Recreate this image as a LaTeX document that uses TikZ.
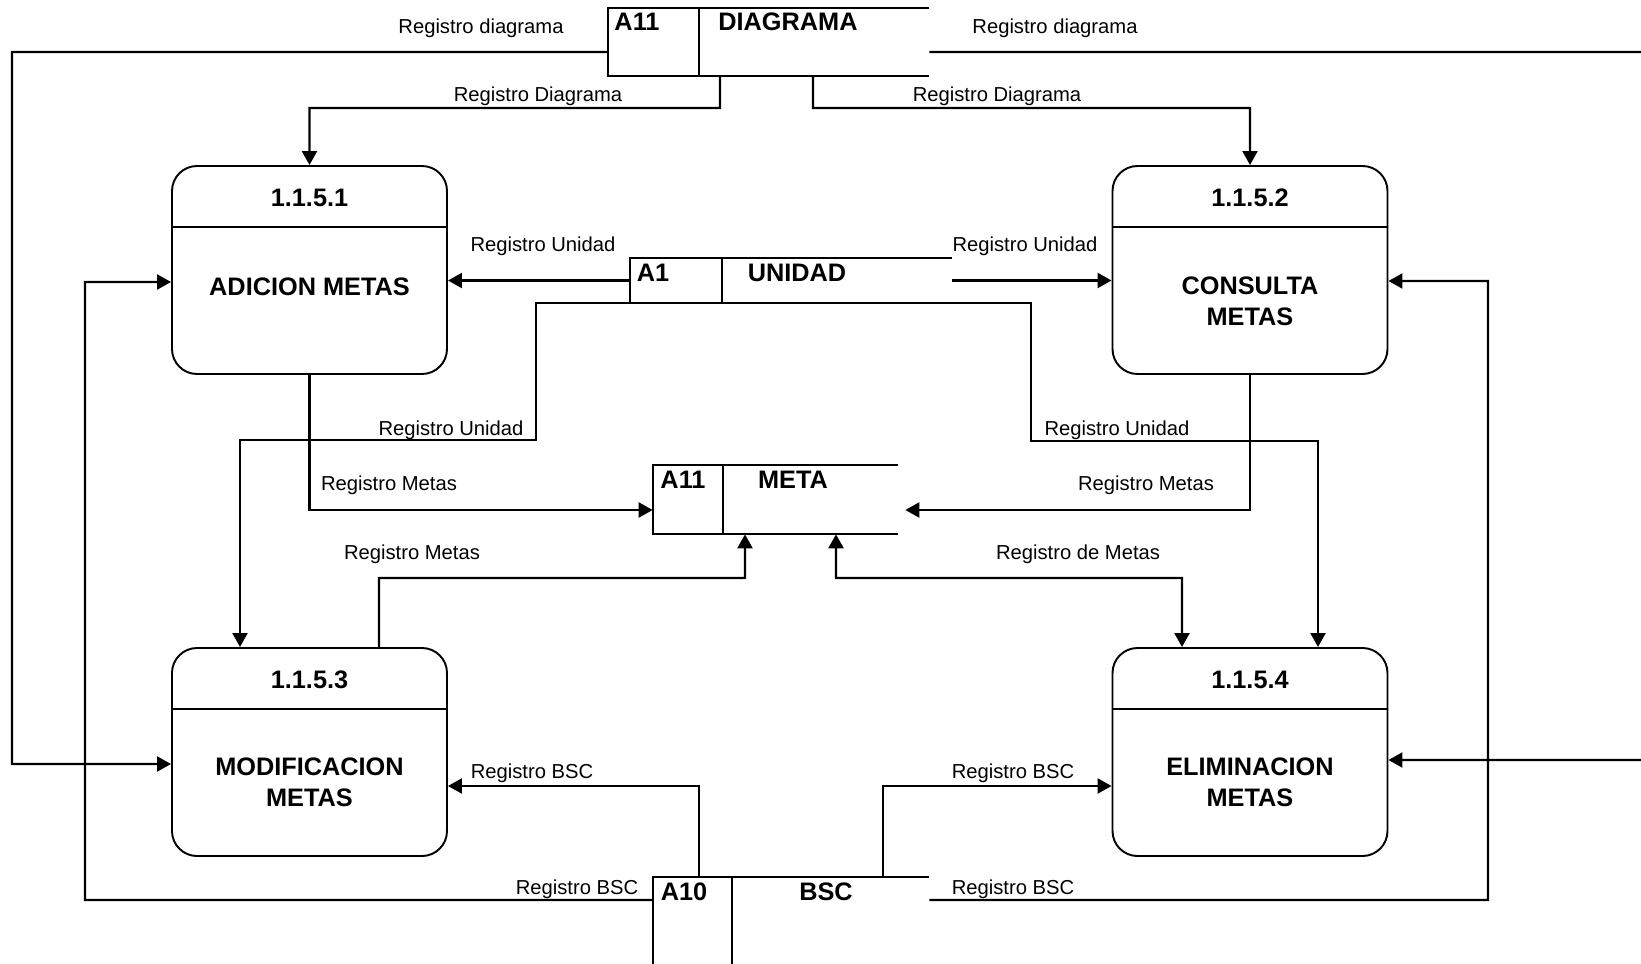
\documentclass[tikz,border=0pt]{standalone}
\usepackage{fontspec}
\setmainfont{Liberation Sans}
\usetikzlibrary{arrows.meta}

\begin{document}
\begin{tikzpicture}[x=0.2mm,y=-0.2mm,
    proc/.style={draw, rounded corners=5mm, minimum width=55mm, minimum height=41.6mm, line width=1.1pt},
    store/.style={inner sep=0pt},
    flow/.style={line width=1.3pt, -{Triangle[length=2.8mm,width=3mm]}},
    lbl/.style={inner sep=0pt, font=\fontsize{11.5}{13}\selectfont},
    ttl/.style={inner sep=0pt, align=center, font=\fontsize{14.4}{17.6}\selectfont\bfseries}]
      \useasboundingbox (0,0) rectangle (1641,964);
      \clip (0,0) rectangle (1641,964);
      % processes
      \node (P1) at (309.5,270) [proc] {};
      \node (P2) at (1250,270) [proc] {};
      \node (P3) at (309.5,752) [proc] {};
      \node (P4) at (1250,752) [proc] {};
      \draw[line width=1.1pt] ([yshift=-12.4mm]P1.north west) to ([yshift=-12.4mm]P1.north east);
      \draw[line width=1.1pt] ([yshift=-12.4mm]P2.north west) to ([yshift=-12.4mm]P2.north east);
      \draw[line width=1.1pt] ([yshift=-12.4mm]P3.north west) to ([yshift=-12.4mm]P3.north east);
      \draw[line width=1.1pt] ([yshift=-12.4mm]P4.north west) to ([yshift=-12.4mm]P4.north east);
      \node (n1) at (309.5,198) [ttl] {1.1.5.1};
      \node (t1) at (309.5,287) [ttl] {ADICION METAS};
      \node (n2) at (1250,198) [ttl] {1.1.5.2};
      \node (t2) at (1250,301.5) [ttl] {CONSULTA\\METAS};
      \node (n3) at (309.5,680) [ttl] {1.1.5.3};
      \node (t3) at (309.5,782.5) [ttl] {MODIFICACION\\METAS};
      \node (n4) at (1250,680) [ttl] {1.1.5.4};
      \node (t4) at (1250,782.5) [ttl] {ELIMINACION\\METAS};
      % stores
      \node (D) at (768.5,42) [store, minimum width=64.2mm, minimum height=13.6mm] {};
      \draw[line width=1.1pt] (D.north east) to (D.north west) to (D.south west) to (D.south east)
      ([xshift=18.2mm]D.north west) to ([xshift=18.2mm]D.south west);
      \node (Da) at (637,22) [ttl] {A11};
      \node (Db) at (788,22) [ttl] {DIAGRAMA};
      \node (U) at (791,280.5) [store, minimum width=64.4mm, minimum height=9mm] {};
      \draw[line width=1.1pt] (U.north east) to (U.north west) to (U.south west) to (U.south east)
      ([xshift=18.4mm]U.north west) to ([xshift=18.4mm]U.south west);
      \node (Ua) at (653,273) [ttl] {A1};
      \node (Ub) at (797,273) [ttl] {UNIDAD};
      \node (M) at (775.5,499.5) [store, minimum width=49mm, minimum height=13.8mm] {};
      \draw[line width=1.1pt] (M.north east) to (M.north west) to (M.south west) to (M.south east)
      ([xshift=14mm]M.north west) to ([xshift=14mm]M.south west);
      \node (Ma) at (683,480) [ttl] {A11};
      \node (Mb) at (793,480) [ttl] {META};
      \node (B) at (791,920.5) [store, minimum width=55.2mm, minimum height=17.4mm] {};
      \draw[line width=1.1pt] (B.north east) to (B.north west) to (B.south west)
      ([xshift=15.8mm]B.north west) to ([xshift=15.8mm]B.south west);
      \node (Ba) at (684,892) [ttl] {A10};
      \node (Bb) at (826,892) [ttl] {BSC};
      % flows from DIAGRAMA
      \draw[flow] ([yshift=-2mm]D.west) to (12,52) to (12,764) to ([yshift=-2.4mm]P3.west);
      \draw[flow] ([yshift=-2mm]D.east) to (1660,52) to (1660,760) to ([yshift=-1.6mm]P4.east);
      \draw[flow] ([xshift=-9.7mm]D.south) to (720,108) -| (P1.north);
      \draw[flow] ([xshift=8.9mm]D.south) to (813,108) -| (P2.north);
      % flows from UNIDAD
      \draw[flow] (U.west) to (U.west -| P1.east);
      \draw[flow] (U.east) to (U.east -| P2.west);
      \draw[flow] (U.south west) -| (536,440) -| ([xshift=-13.9mm]P3.north);
      \draw[flow] (U.south east) -| (1031,441) -| ([xshift=13.6mm]P4.north);
      % flows to META
      \draw[flow] (P1.south) |- ([yshift=-2.1mm]M.west);
      \draw[flow] (P2.south) |- ([xshift=1.4mm,yshift=-2.1mm]M.east);
      \draw[flow] ([xshift=13.9mm]P3.north) to (379,578) -| ([xshift=-6.1mm]M.south);
      \draw[flow, {Triangle[length=2.8mm,width=3mm]}-{Triangle[length=2.8mm,width=3mm]}]
      ([xshift=12.1mm]M.south) |- (1182,578) to ([xshift=-13.6mm]P4.north);
      % flows from BSC
      \draw[flow] ([xshift=-18.4mm]B.north) |- ([yshift=-6.8mm]P3.east);
      \draw[flow] ([xshift=18.4mm]B.north) |- ([yshift=-6.8mm]P4.west);
      \draw[flow] ([yshift=4.1mm]B.west) to (85,900) |- ([yshift=-2.4mm]P1.west);
      \draw[flow] ([yshift=4.1mm]B.east) to (1488,900) |- ([yshift=-2.2mm]P2.east);
      % labels
      \node (lD1) at (481,28) [lbl] {Registro diagrama};
      \node (lD2) at (1055,28) [lbl] {Registro diagrama};
      \node (lD3) at (538,96) [lbl] {Registro Diagrama};
      \node (lD4) at (997,96) [lbl] {Registro Diagrama};
      \node (lU1) at (543,246) [lbl] {Registro Unidad};
      \node (lU2) at (1025,246) [lbl] {Registro Unidad};
      \node (lU3) at (451,430) [lbl] {Registro Unidad};
      \node (lU4) at (1117,430) [lbl] {Registro Unidad};
      \node (lM1) at (389,485) [lbl] {Registro Metas};
      \node (lM2) at (1146,485) [lbl] {Registro Metas};
      \node (lM3) at (412,554) [lbl] {Registro Metas};
      \node (lM4) at (1078,554) [lbl] {Registro de Metas};
      \node (lB1) at (532,773) [lbl] {Registro BSC};
      \node (lB2) at (1013,773) [lbl] {Registro BSC};
      \node (lB3) at (577,889) [lbl] {Registro BSC};
      \node (lB4) at (1013,889) [lbl] {Registro BSC};
    \end{tikzpicture}
\end{document}
